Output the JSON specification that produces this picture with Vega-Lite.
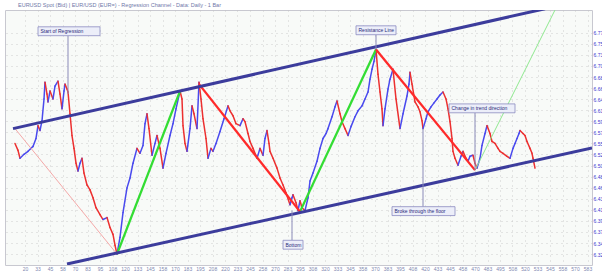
{
  "$schema": "https://vega.github.io/schema/vega-lite/v6.json",
  "width": 587,
  "height": 255,
  "autosize": {"type": "none"},
  "padding": {"left": 5, "top": 10, "right": 10, "bottom": 7},
  "background": "#ffffff",
  "title": {"text": "EURUSD Spot (Bid) | EUR/USD (EUR=) - Regression Channel - Data: Daily - 1 Bar", "fontSize": 5.5, "fontWeight": "normal", "color": "#7078a8", "anchor": "start", "dx": 13, "offset": 2, "font": "Liberation Sans"},
  "config": {"view": {"fill": "#f8faf8", "stroke": "#c8c8d0"}, "font": "Liberation Sans"},
  "datasets": {
    "price": [
      {"t":10,"p":6.546},{"t":13,"p":6.532},{"t":15,"p":6.516},{"t":19,"p":6.524},{"t":23,"p":6.530},{"t":28,"p":6.540},{"t":31,"p":6.556},{"t":33,"p":6.582},{"t":35,"p":6.572},{"t":37,"p":6.592},{"t":39,"p":6.636},{"t":40,"p":6.670},{"t":42,"p":6.646},{"t":43,"p":6.630},{"t":45,"p":6.652},{"t":48,"p":6.636},{"t":50,"p":6.662},{"t":53,"p":6.672},{"t":55,"p":6.646},{"t":57,"p":6.616},{"t":59,"p":6.652},{"t":60,"p":6.666},{"t":62,"p":6.656},{"t":63,"p":6.650},{"t":65,"p":6.606},{"t":67,"p":6.562},{"t":69,"p":6.536},{"t":71,"p":6.506},{"t":73,"p":6.490},{"t":75,"p":6.506},{"t":77,"p":6.516},{"t":79,"p":6.486},{"t":82,"p":6.462},{"t":85,"p":6.452},{"t":88,"p":6.436},{"t":91,"p":6.416},{"t":95,"p":6.402},{"t":98,"p":6.392},{"t":102,"p":6.396},{"t":105,"p":6.376},{"t":108,"p":6.362},{"t":110,"p":6.340},{"t":112,"p":6.322},{"t":115,"p":6.356},{"t":118,"p":6.406},{"t":122,"p":6.456},{"t":125,"p":6.476},{"t":128,"p":6.506},{"t":132,"p":6.536},{"t":135,"p":6.526},{"t":138,"p":6.542},{"t":140,"p":6.586},{"t":142,"p":6.606},{"t":144,"p":6.576},{"t":147,"p":6.522},{"t":150,"p":6.546},{"t":152,"p":6.562},{"t":155,"p":6.536},{"t":158,"p":6.496},{"t":161,"p":6.526},{"t":165,"p":6.562},{"t":168,"p":6.586},{"t":171,"p":6.616},{"t":175,"p":6.652},{"t":177,"p":6.636},{"t":178,"p":6.582},{"t":180,"p":6.546},{"t":182,"p":6.530},{"t":185,"p":6.576},{"t":187,"p":6.622},{"t":189,"p":6.606},{"t":192,"p":6.576},{"t":194,"p":6.670},{"t":196,"p":6.636},{"t":198,"p":6.596},{"t":201,"p":6.556},{"t":203,"p":6.516},{"t":206,"p":6.536},{"t":208,"p":6.530},{"t":211,"p":6.546},{"t":215,"p":6.570},{"t":219,"p":6.596},{"t":223,"p":6.622},{"t":225,"p":6.612},{"t":228,"p":6.602},{"t":231,"p":6.586},{"t":235,"p":6.582},{"t":238,"p":6.596},{"t":240,"p":6.590},{"t":243,"p":6.566},{"t":245,"p":6.550},{"t":248,"p":6.536},{"t":252,"p":6.516},{"t":255,"p":6.536},{"t":258,"p":6.522},{"t":260,"p":6.556},{"t":262,"p":6.572},{"t":264,"p":6.546},{"t":265,"p":6.530},{"t":268,"p":6.516},{"t":272,"p":6.496},{"t":275,"p":6.476},{"t":278,"p":6.462},{"t":281,"p":6.446},{"t":285,"p":6.422},{"t":287,"p":6.436},{"t":288,"p":6.442},{"t":291,"p":6.426},{"t":293,"p":6.410},{"t":295,"p":6.430},{"t":297,"p":6.416},{"t":300,"p":6.410},{"t":303,"p":6.436},{"t":305,"p":6.470},{"t":308,"p":6.486},{"t":312,"p":6.510},{"t":315,"p":6.536},{"t":318,"p":6.556},{"t":321,"p":6.566},{"t":323,"p":6.576},{"t":327,"p":6.600},{"t":330,"p":6.620},{"t":332,"p":6.632},{"t":335,"p":6.606},{"t":337,"p":6.590},{"t":340,"p":6.576},{"t":343,"p":6.562},{"t":346,"p":6.580},{"t":350,"p":6.600},{"t":353,"p":6.612},{"t":357,"p":6.622},{"t":360,"p":6.636},{"t":363,"p":6.650},{"t":365,"p":6.676},{"t":367,"p":6.696},{"t":369,"p":6.712},{"t":371,"p":6.736},{"t":373,"p":6.686},{"t":375,"p":6.650},{"t":377,"p":6.616},{"t":378,"p":6.582},{"t":380,"p":6.616},{"t":383,"p":6.656},{"t":385,"p":6.676},{"t":388,"p":6.696},{"t":391,"p":6.636},{"t":395,"p":6.576},{"t":398,"p":6.606},{"t":402,"p":6.642},{"t":404,"p":6.666},{"t":405,"p":6.690},{"t":407,"p":6.666},{"t":410,"p":6.630},{"t":413,"p":6.620},{"t":415,"p":6.610},{"t":417,"p":6.592},{"t":418,"p":6.576},{"t":421,"p":6.596},{"t":423,"p":6.610},{"t":426,"p":6.620},{"t":429,"p":6.628},{"t":432,"p":6.636},{"t":435,"p":6.644},{"t":438,"p":6.650},{"t":441,"p":6.636},{"t":443,"p":6.616},{"t":445,"p":6.590},{"t":447,"p":6.556},{"t":448,"p":6.530},{"t":450,"p":6.516},{"t":453,"p":6.502},{"t":456,"p":6.520},{"t":458,"p":6.530},{"t":461,"p":6.516},{"t":463,"p":6.510},{"t":465,"p":6.520},{"t":468,"p":6.522},{"t":470,"p":6.506},{"t":472,"p":6.496},{"t":475,"p":6.516},{"t":477,"p":6.542},{"t":480,"p":6.566},{"t":482,"p":6.582},{"t":485,"p":6.566},{"t":487,"p":6.550},{"t":490,"p":6.546},{"t":493,"p":6.536},{"t":495,"p":6.530},{"t":498,"p":6.526},{"t":502,"p":6.520},{"t":505,"p":6.516},{"t":508,"p":6.536},{"t":510,"p":6.546},{"t":512,"p":6.556},{"t":514,"p":6.566},{"t":515,"p":6.572},{"t":518,"p":6.566},{"t":520,"p":6.562},{"t":522,"p":6.550},{"t":525,"p":6.536},{"t":527,"p":6.526},{"t":528,"p":6.516},{"t":530,"p":6.496}
    ],
    "channel": [
      {"t":8,"p":6.576,"t2":540,"p2":6.8186},
      {"t":62,"p":6.302,"t2":587,"p2":6.5368}
    ],
    "swings": [
      {"t":112,"p":6.322,"t2":175,"p2":6.652,"dir":"up"},
      {"t":295,"p":6.408,"t2":371,"p2":6.736,"dir":"up"},
      {"t":194,"p":6.666,"t2":295,"p2":6.408,"dir":"down"},
      {"t":371,"p":6.736,"t2":470,"p2":6.492,"dir":"down"}
    ],
    "guides": [
      {"t":10,"p":6.576,"t2":112,"p2":6.322,"dir":"down"},
      {"t":470,"p":6.492,"t2":551,"p2":6.82,"dir":"up"}
    ],
    "pointers": [
      {"t":63,"p":6.764,"p2":6.646},
      {"t":371,"p":6.766,"p2":6.736},
      {"t":470,"p":6.608,"p2":6.492},
      {"t":418,"p":6.418,"p2":6.576},
      {"t":287,"p":6.350,"p2":6.410}
    ],
    "labels": [
      {"label":"Start of Regression","t":33,"t2":95,"p":6.782,"p2":6.764},
      {"label":"Resistance Line","t":351,"t2":391,"p":6.784,"p2":6.766},
      {"label":"Change in trend direction","t":444,"t2":510,"p":6.626,"p2":6.608},
      {"label":"Broke through the floor","t":387,"t2":450,"p":6.418,"p2":6.400},
      {"label":"Bottom","t":278,"t2":298,"p":6.350,"p2":6.332}
    ]
  },
  "encoding": {
    "x": {"field": "t", "type": "quantitative", "scale": {"domain": [0, 587], "nice": false, "zero": false},
      "axis": {"title": null, "orient": "bottom", "values": [20,32.5,45,57.5,70,82.5,95,107.5,120,132.5,145,157.5,170,182.5,195,207.5,220,232.5,245,257.5,270,282.5,295,307.5,320,332.5,345,357.5,370,382.5,395,407.5,420,432.5,445,457.5,470,482.5,495,507.5,520,532.5,545,557.5,570,582.5], "format": ".0f", "labelFontSize": 5, "labelColor": "#8088b0", "labelPadding": 1, "ticks": false, "domain": false, "grid": true, "gridDash": [1, 4], "gridColor": "#c4c4c4", "gridOpacity": 0.8}},
    "y": {"field": "p", "type": "quantitative", "scale": {"domain": [6.30, 6.816], "nice": false, "zero": false},
      "axis": {"title": null, "orient": "right", "values": [6.77,6.7476,6.7252,6.7028,6.6804,6.658,6.6356,6.6132,6.5908,6.5684,6.546,6.5236,6.5012,6.4788,6.4564,6.434,6.4116,6.3892,6.3668,6.3444,6.322], "format": ".2f", "labelFontSize": 5, "labelColor": "#3a3ad0", "labelPadding": 1, "ticks": false, "domain": false, "grid": true, "gridDash": [1, 4], "gridColor": "#c4c4c4", "gridOpacity": 0.8}}
  },
  "layer": [
    {
      "data": {"name": "price"},
      "transform": [
        {"window": [{"op": "lag", "field": "t", "as": "t2"}, {"op": "lag", "field": "p", "as": "p2"}], "sort": [{"field": "t"}]},
        {"filter": "datum.t2 != null"}
      ],
      "mark": {"type": "rule", "strokeWidth": 1.5, "strokeCap": "round"},
      "encoding": {
        "x2": {"field": "t2"},
        "y2": {"field": "p2"},
        "color": {"condition": {"test": "datum.p < datum.p2", "value": "#ec3030"}, "value": "#4a4aee"}
      }
    },
    {
      "data": {"name": "guides"},
      "mark": {"type": "rule", "strokeWidth": 1, "clip": true},
      "encoding": {
        "x2": {"field": "t2"},
        "y2": {"field": "p2"},
        "color": {"condition": {"test": "datum.dir == 'up'", "value": "#8fe88f"}, "value": "#f4a8a8"}
      }
    },
    {
      "data": {"name": "swings"},
      "mark": {"type": "rule", "strokeWidth": 2.3, "clip": true},
      "encoding": {
        "x2": {"field": "t2"},
        "y2": {"field": "p2"},
        "color": {"condition": {"test": "datum.dir == 'up'", "value": "#33dd33"}, "value": "#ff2a2a"}
      }
    },
    {
      "data": {"name": "channel"},
      "mark": {"type": "rule", "strokeWidth": 3, "color": "#3c3c9c", "clip": true},
      "encoding": {
        "x2": {"field": "t2"},
        "y2": {"field": "p2"}
      }
    },
    {
      "data": {"name": "pointers"},
      "mark": {"type": "rule", "strokeWidth": 1, "color": "#8a8ab8"},
      "encoding": {
        "y2": {"field": "p2"}
      }
    },
    {
      "data": {"name": "labels"},
      "mark": {"type": "rect", "fill": "#eceef9", "stroke": "#8a8ac0", "strokeWidth": 0.8},
      "encoding": {
        "x2": {"field": "t2"},
        "y2": {"field": "p2"}
      }
    },
    {
      "data": {"name": "labels"},
      "mark": {"type": "text", "align": "left", "baseline": "middle", "dx": 2.5, "dy": 4.5, "fontSize": 5, "color": "#2a2a7a"},
      "encoding": {
        "text": {"field": "label"}
      }
    }
  ]
}
